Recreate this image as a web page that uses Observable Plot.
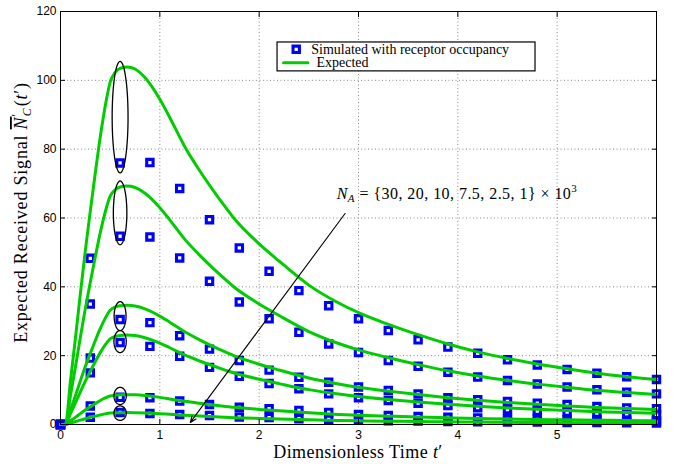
<!DOCTYPE html>
<html>
<head>
<meta charset="utf-8">
<script src="https://cdn.jsdelivr.net/npm/d3@7"></script>
<script src="https://cdn.jsdelivr.net/npm/@observablehq/plot@0.6"></script>
<style>
  html, body { margin: 0; padding: 0; background: #fff; }
  svg { display: block; }
</style>
</head>
<body>
<div id="chart"></div>
<script>
// Number of emitted molecules N_A (x 10^3), one curve / marker series each
const nA = [30, 20, 10, 7.5, 2.5, 1];

// Simulated signal (with receptor occupancy), sampled every 0.3 time units
const tSim = [0, 0.3, 0.6, 0.9, 1.2, 1.5, 1.8, 2.1, 2.4, 2.7, 3.0, 3.3, 3.6, 3.9, 4.2, 4.5, 4.8, 5.1, 5.4, 5.7, 6.0];
const sim30  = [0, 48.3, 76.0, 76.1, 68.6, 59.5, 51.3, 44.5, 38.9, 34.5, 30.7, 27.3, 24.6, 22.5, 20.7, 18.8, 17.3, 16.0, 14.9, 13.9, 13.1];
const sim20  = [0, 35.0, 54.7, 54.5, 48.4, 41.6, 35.6, 30.7, 26.8, 23.4, 20.9, 18.6, 16.9, 15.2, 13.8, 12.8, 11.8, 10.9, 10.1, 9.4, 8.9];
const sim10  = [0, 19.3, 30.5, 29.6, 25.8, 21.9, 18.6, 15.8, 13.7, 12.3, 10.9, 9.9, 8.9, 7.8, 7.2, 6.7, 6.2, 5.8, 5.2, 4.8, 4.6];
const sim7_5 = [0, 15.0, 23.8, 22.7, 19.8, 16.6, 14.0, 11.9, 10.4, 8.9, 7.8, 7.0, 6.2, 5.5, 4.9, 4.3, 3.9, 3.6, 3.3, 3.1, 2.9];
const sim2_5 = [0, 5.4, 7.9, 7.8, 6.8, 5.8, 5.0, 4.6, 4.1, 3.5, 2.9, 2.6, 2.3, 2.1, 1.9, 1.7, 1.6, 1.4, 1.3, 1.2, 1.1];
const sim1   = [0, 2.1, 3.5, 3.2, 2.9, 2.6, 2.2, 2.0, 1.7, 1.5, 1.3, 1.1, 1.0, 0.9, 0.8, 0.75, 0.7, 0.6, 0.55, 0.5, 0.45];

// Expected signal curves
const tExp = [0, 0.05, 0.1, 0.15, 0.2, 0.25, 0.3, 0.35, 0.4, 0.45, 0.5, 0.55, 0.6, 0.67, 0.75, 0.85, 1.0, 1.1, 1.25, 1.4,
              1.6, 1.75, 2.0, 2.2, 2.5, 2.8, 3.0, 3.3, 3.6, 3.9, 4.2, 4.5, 4.8, 5.1, 5.4, 5.7, 6.0];
const exp30  = [0, 0, 12.5, 25, 38, 50.5, 62, 73, 83.5, 92.5, 99.5, 102.3, 103.5, 103.9, 103.3, 100.8, 94.5, 89.2, 80.8, 73.8,
                65.5, 59.8, 52.5, 47.5, 40.5, 35.3, 32.5, 29.1, 26.1, 23.4, 21.1, 19.2, 17.6, 16.2, 14.9, 13.9, 13.1];
const exp20  = [0, 0, 8.33, 16.67, 25.33, 33.67, 41.33, 48.67, 55.67, 61.67, 66.33, 68.2, 69.0, 69.27, 68.87, 67.2, 63.0, 59.47, 53.87, 49.2,
                43.67, 39.87, 35.0, 31.67, 27.0, 23.53, 21.67, 19.4, 17.4, 15.6, 14.07, 12.8, 11.73, 10.8, 9.93, 9.27, 8.73];
const exp10  = [0, 0, 4.17, 8.33, 12.67, 16.83, 20.67, 24.33, 27.83, 30.83, 33.17, 34.1, 34.5, 34.63, 34.43, 33.6, 31.5, 29.73, 26.93, 24.6,
                21.83, 19.93, 17.5, 15.83, 13.5, 11.77, 10.83, 9.7, 8.7, 7.8, 7.03, 6.4, 5.87, 5.4, 4.97, 4.63, 4.37];
const exp7_5 = [0, 0, 3.13, 6.25, 9.5, 12.63, 15.5, 18.25, 20.88, 23.13, 24.88, 25.58, 25.88, 25.98, 25.83, 25.2, 23.63, 22.3, 20.2, 18.45,
                16.38, 14.95, 13.13, 11.88, 10.13, 8.83, 8.13, 7.28, 6.53, 5.85, 5.28, 4.8, 4.4, 4.05, 3.73, 3.48, 3.28];
const exp2_5 = [0, 0, 1.04, 2.08, 3.17, 4.21, 5.17, 6.08, 6.96, 7.71, 8.29, 8.53, 8.63, 8.66, 8.61, 8.4, 7.88, 7.43, 6.73, 6.15,
                5.46, 4.98, 4.38, 3.96, 3.38, 2.94, 2.71, 2.43, 2.18, 1.95, 1.76, 1.6, 1.47, 1.35, 1.24, 1.16, 1.09];
const exp1   = [0, 0, 0.42, 0.83, 1.27, 1.68, 2.07, 2.43, 2.78, 3.08, 3.32, 3.41, 3.45, 3.46, 3.44, 3.36, 3.15, 2.97, 2.69, 2.46,
                2.18, 1.99, 1.75, 1.58, 1.35, 1.18, 1.08, 0.97, 0.87, 0.78, 0.70, 0.64, 0.59, 0.54, 0.50, 0.46, 0.44];

// Highlight ellipses around the t' = 0.6 samples: centre value, half-height, half-width
const ellipseT  = 0.6;
const ellipseV  = [89.3, 61.5, 31.5, 24.1, 8.3, 3.3];
const ellipseRy = [16.2, 9.25, 4.2, 3.2, 2.5, 2.1];
const ellipseRx = [0.08, 0.068, 0.06, 0.062, 0.062, 0.062];

// Axis ticks and labels
const xTicks = [0, 1, 2, 3, 4, 5];
const yTicks = [0, 20, 40, 60, 80, 100, 120];
const legendLabels = ["Simulated with receptor occupancy", "Expected"];

// ---- build tidy rows ----
const simSeries = [sim30, sim20, sim10, sim7_5, sim2_5, sim1];
const expSeries = [exp30, exp20, exp10, exp7_5, exp2_5, exp1];
const simRows = simSeries.flatMap((vals, i) => vals.map((v, j) => ({series: nA[i], t: tSim[j], v})));
const expRows = expSeries.flatMap((vals, i) => vals.map((v, j) => ({series: nA[i], t: tExp[j], v})));
const ellipseRows = ellipseV.flatMap((cv, i) => d3.range(72).map(k => {
  const a = (k / 72) * 2 * Math.PI;
  return {id: i, t: ellipseT + ellipseRx[i] * Math.cos(a), v: cv + ellipseRy[i] * Math.sin(a)};
}));

const BLUE = "#0000ff";
const GREEN = "#00cc00";
const SERIF = "'Liberation Serif', 'Times New Roman', serif";
const SANS = "'Liberation Sans', Arial, Helvetica, sans-serif";

const markerStyle = {symbol: "square", r: 3.6, stroke: BLUE, strokeWidth: 3.1, fill: "none"};
const noText = {tickFormat: () => "", label: null, tickSize: 5, stroke: "black"};

const plot = Plot.plot({
  width: 678,
  height: 464,
  marginLeft: 60,
  marginRight: 22,
  marginTop: 11,
  marginBottom: 40,
  x: {domain: [0, 6]},
  y: {domain: [0, 120]},
  style: {fontFamily: SANS, fontSize: "12px", color: "black", background: "white", overflow: "visible"},
  marks: [
    // dotted grid
    Plot.gridX({ticks: xTicks.slice(1), stroke: "#8a8a8a", strokeOpacity: 1, strokeDasharray: "1,2.5"}),
    Plot.gridY({ticks: yTicks.slice(1, -1), stroke: "#8a8a8a", strokeOpacity: 1, strokeDasharray: "1,2.5"}),
    // simulated samples
    Plot.dot(simRows, {x: "t", y: "v", ...markerStyle}),
    // expected curves
    Plot.line(expRows, {x: "t", y: "v", z: "series", stroke: GREEN, strokeWidth: 3, curve: "monotone-x"}),
    // highlight ellipses
    Plot.line(ellipseRows, {x: "t", y: "v", z: "id", stroke: "black", strokeWidth: 1.3, curve: "linear-closed"}),
    // arrow pointing along increasing N_A
    Plot.arrow([{x1: 2.865, y1: 61.3, x2: 1.307, y2: 0.6}], {x1: "x1", y1: "y1", x2: "x2", y2: "y2", stroke: "black", strokeWidth: 1.1, headLength: 9, headAngle: 45}),
    // legend box
    Plot.rect([{}], {x1: 2.185, x2: 4.782, y1: 102.6, y2: 111.0, fill: "white", stroke: "black", strokeWidth: 1.2}),
    Plot.dot([{t: 2.373, v: 109.0}], {x: "t", y: "v", ...markerStyle}),
    Plot.line([{t: 2.245, v: 105.1}, {t: 2.49, v: 105.1}], {x: "t", y: "v", stroke: GREEN, strokeWidth: 3}),
    Plot.text([{t: 2.524, v: 109.0, s: legendLabels[0]}, {t: 2.577, v: 105.1, s: legendLabels[1]}],
      {x: "t", y: "v", text: "s", textAnchor: "start", fontFamily: SERIF, fontSize: 14, fill: "black",
       style: "letter-spacing:0.45px"}),
    // frame and axes (ticks point inward on all four sides)
    Plot.frame({stroke: "black", strokeWidth: 1}),
    Plot.axisX({anchor: "bottom", ticks: xTicks, tickSize: 0, tickPadding: 6, label: null, fontSize: 12, tickFormat: d3.format("d")}),
    Plot.axisY({anchor: "left", ticks: yTicks, tickSize: 0, tickPadding: 4, label: null, fontSize: 12, tickFormat: d3.format("d")}),
    Plot.axisX({anchor: "bottom", ticks: xTicks.slice(1), ...noText, dy: -5}),
    Plot.axisX({anchor: "top", ticks: xTicks.slice(1), ...noText, dy: 5}),
    Plot.axisY({anchor: "left", ticks: yTicks.slice(1, -1), ...noText, dx: 5}),
    Plot.axisY({anchor: "right", ticks: yTicks.slice(1, -1), ...noText, dx: -5})
  ]
});

document.getElementById("chart").appendChild(plot);

// ---- math-style labels ----
const svg = d3.select(plot);
const sx = plot.scale("x"), sy = plot.scale("y");

// x-axis title
const xt = svg.append("text")
  .attr("x", (sx.apply(0) + sx.apply(6)) / 2).attr("y", 458)
  .attr("text-anchor", "middle").attr("font-family", SERIF).attr("font-size", 18).attr("fill", "black")
  .style("letter-spacing", "0.4px");
xt.append("tspan").text("Dimensionless Time ");
xt.append("tspan").attr("font-style", "italic").text("t");
xt.append("tspan").text("\u2032");

// y-axis title
const yMid = (sy.apply(0) + sy.apply(120)) / 2 - 5;
const yt = svg.append("text")
  .attr("transform", "rotate(-90)")
  .attr("x", -yMid).attr("y", 27)
  .attr("text-anchor", "middle").attr("font-family", SERIF).attr("font-size", 18).attr("fill", "black")
  .style("letter-spacing", "0.8px");
yt.append("tspan").text("Expected Received Signal ");
yt.append("tspan").attr("font-style", "italic").style("text-decoration", "overline").text("N");
yt.append("tspan").attr("font-size", 12).attr("dy", -7).text("\u2032");
yt.append("tspan").attr("font-size", 12).attr("font-style", "italic").attr("dx", -3).attr("dy", 11).text("C");
yt.append("tspan").attr("dy", -4).attr("dx", 1).text("(");
yt.append("tspan").attr("font-style", "italic").text("t");
yt.append("tspan").text("\u2032)");

// N_A annotation
const ann = svg.append("text")
  .attr("x", sx.apply(2.786)).attr("y", sy.apply(65.3))
  .attr("text-anchor", "start")
  .attr("font-family", SERIF).attr("font-size", 16).attr("fill", "black")
  .style("letter-spacing", "0.45px");
ann.append("tspan").attr("font-style", "italic").text("N");
ann.append("tspan").attr("font-style", "italic").attr("font-size", 11).attr("dy", 3).text("A");
ann.append("tspan").attr("dy", -3).text(" = {" + nA.join(", ") + "} \u00d7 10");
ann.append("tspan").attr("font-size", 11).attr("dy", -7).text("3");
</script>
</body>
</html>
